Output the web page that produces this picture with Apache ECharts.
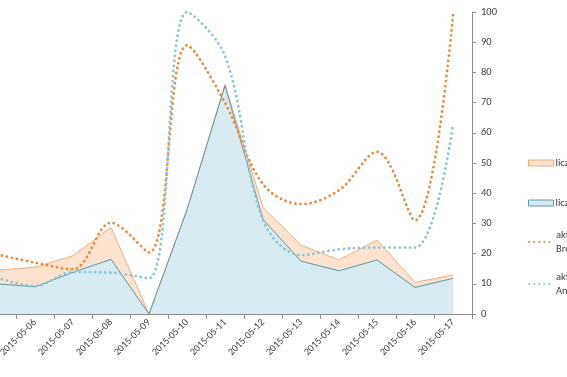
<!DOCTYPE html>
<html>
<head>
<meta charset="utf-8">
<script src="https://cdn.jsdelivr.net/npm/echarts@6/dist/echarts.min.js"></script>
<style>
  html, body { margin: 0; padding: 0; background: #fff; overflow: hidden; }
  /* the original is cropped on the left: draw a bit wider and shift left */
  #chart { width: 589px; height: 377px; margin-left: -22px; }
</style>
</head>
<body>
<div id="chart"></div>
<script>
// categories (first one sits just off the left edge, like the cropped original)
const dates = [
  '2015-05-05', '2015-05-06', '2015-05-07', '2015-05-08', '2015-05-09',
  '2015-05-10', '2015-05-11', '2015-05-12', '2015-05-13', '2015-05-14',
  '2015-05-15', '2015-05-16', '2015-05-17'
]

const sessions = [14.5, 15.5, 19.3, 28.7, 0, 34.5, 76, 35.3, 22.8, 17.9, 24.5, 10.5, 12.9]
const users = [10, 9.0, 13.8, 18.1, 0, 34.5, 75.6, 31.3, 17.5, 14.3, 17.9, 8.8, 11.8]
const activeBrowser = [19.7, 17, 14.8, 30.2, 20.4, 89, 70, 43, 36.4, 41, 53.7, 31, 99]
const activeAndroid = [12, 9.3, 13.9, 13.7, 11.8, 100, 85.5, 31, 19.5, 21.4, 22, 22, 62.8]

const yMin = 0
const yMax = 100
const yStep = 10

const names = {
  sessions: 'liczba sesji',
  users: 'liczba użytkowników',
  browser: 'aktywni użytkownicy\nBrowser',
  android: 'aktywni użytkownicy\nAndroid'
}

const font = 'Carlito, "Liberation Sans", sans-serif'
const textColor = '#404040'
const axisColor = '#8c8c8c'

const chart = echarts.init(document.getElementById('chart'))

const legendBase = {
  orient: 'vertical',
  left: 550,
  padding: 0,
  itemWidth: 25,
  itemHeight: 6,
  selectedMode: false,
  textStyle: { color: textColor, fontFamily: font, fontSize: 10.5, lineHeight: 14, padding: [0, 0, 0, -3] }
}

const option = {
  animation: false,
  grid: { left: 0, right: 95, top: 12, bottom: 63, outerBoundsMode: 'none' },
  legend: [
    Object.assign({}, legendBase, {
      top: 156,
      data: [{ name: names.sessions, icon: 'rect', itemStyle: { color: '#fbe3d0', borderColor: '#f2b07e', borderWidth: 1 } }]
    }),
    Object.assign({}, legendBase, {
      top: 196,
      data: [{ name: names.users, icon: 'rect', itemStyle: { color: '#d8ebf2', borderColor: '#5b9aab', borderWidth: 1 } }]
    }),
    Object.assign({}, legendBase, {
      top: 221,
      data: [{ name: names.browser, itemStyle: { opacity: 0 }, textStyle: { padding: [14, 0, 0, -3] } }]
    }),
    Object.assign({}, legendBase, {
      top: 263,
      data: [{ name: names.android, itemStyle: { opacity: 0 }, textStyle: { padding: [14, 0, 0, -3] } }]
    })
  ],
  xAxis: {
    type: 'category',
    data: dates,
    boundaryGap: true,
    axisLine: { lineStyle: { color: axisColor } },
    axisTick: { show: true, length: 5, lineStyle: { color: axisColor } },
    axisLabel: {
      interval: 0,
      rotate: 45,
      margin: 7,
      color: textColor,
      fontFamily: font,
      fontSize: 10
    },
    splitLine: { show: false }
  },
  yAxis: {
    type: 'value',
    position: 'right',
    min: yMin,
    max: yMax,
    interval: yStep,
    axisLine: { show: true, lineStyle: { color: axisColor } },
    axisTick: { show: true, length: 4, lineStyle: { color: axisColor } },
    axisLabel: { margin: 9, color: textColor, fontFamily: font, fontSize: 10.5 },
    splitLine: { show: false }
  },
  series: [
    {
      name: names.sessions,
      type: 'line',
      data: sessions,
      symbol: 'none',
      lineStyle: { color: '#f2b07e', width: 1 },
      itemStyle: { color: '#f2b07e' },
      areaStyle: { color: '#fbe3d0', opacity: 1 }
    },
    {
      name: names.users,
      type: 'line',
      data: users,
      symbol: 'none',
      lineStyle: { color: '#5b9aab', width: 1 },
      itemStyle: { color: '#5b9aab' },
      areaStyle: { color: '#d8ebf2', opacity: 1 }
    },
    {
      name: names.browser,
      type: 'line',
      data: activeBrowser,
      symbol: 'none',
      smooth: 0.35,
      lineStyle: { color: '#ed8b3d', width: 2.8, type: [0.1, 5], cap: 'round' },
      itemStyle: { color: '#ed8b3d' }
    },
    {
      name: names.android,
      type: 'line',
      data: activeAndroid,
      symbol: 'none',
      smooth: 0.35,
      lineStyle: { color: '#8ec6d6', width: 2.8, type: [0.1, 5], cap: 'round' },
      itemStyle: { color: '#8ec6d6' }
    }
  ]
}

chart.setOption(option)
</script>
</body>
</html>
